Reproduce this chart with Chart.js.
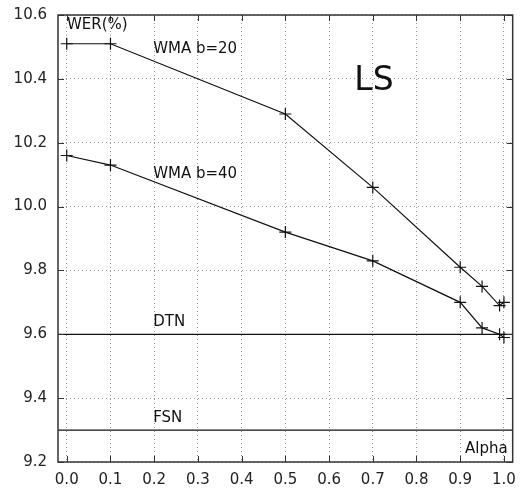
<!DOCTYPE html>
<html>
<head>
<meta charset="utf-8">
<script src="https://cdn.jsdelivr.net/npm/chart.js@4"></script>
<style>
    html, body { margin: 0; padding: 0; background: #fff; overflow: hidden; }
    #wrap { width: 522px; height: 491px; overflow: hidden; position: relative; }
    #chart { position: absolute; left: 0; top: -5px; }
</style>
</head>
<body>
<div id="wrap"><canvas id="chart" width="525" height="496"></canvas></div>
<script>
// values
const alphas = [0.0, 0.1, 0.5, 0.7, 0.9, 0.95, 0.99, 1.0];
const werB20 = [10.51, 10.51, 10.29, 10.06, 9.81, 9.75, 9.69, 9.70];
const werB40 = [10.16, 10.13, 9.92, 9.83, 9.70, 9.62, 9.60, 9.59];
const dtnWer = 9.6;
const fsnWer = 9.3;
const xTicks = [0.0, 0.1, 0.2, 0.3, 0.4, 0.5, 0.6, 0.7, 0.8, 0.9, 1.0];
const yTicks = [9.2, 9.4, 9.6, 9.8, 10.0, 10.2, 10.4, 10.6];

const xMin = -0.02, xMax = 1.02;
const FONT = "'DejaVu Sans', sans-serif";

function toPoints(xs, ys){
    return xs.map((x, i) => ({ x: x, y: ys[i] }));
}

// text labels placed at data coordinates
const notes = [
    { text: "WMA b=20", x: 0.2, y: 10.48, size: 15 },
    { text: "WMA b=40", x: 0.2, y: 10.09, size: 15 },
    { text: "DTN", x: 0.2, y: 9.625, size: 15 },
    { text: "FSN", x: 0.2, y: 9.325, size: 15 },
    { text: "LS", x: 0.66, y: 10.365, size: 33 }
];

const annotate = {
    id: "annotate",
    afterDraw(chart){
        const ctx = chart.ctx;
        const xs = chart.scales.x;
        const ys = chart.scales.y;
        const a = chart.chartArea;

        ctx.save();
        // inward tick marks on all four sides
        ctx.strokeStyle = "#333";
        ctx.lineWidth = 1;
        ctx.beginPath();
        xTicks.forEach(v => {
            const px = Math.round(xs.getPixelForValue(v)) + 0.5;
            ctx.moveTo(px, a.bottom); ctx.lineTo(px, a.bottom - 6);
            ctx.moveTo(px, a.top); ctx.lineTo(px, a.top + 6);
        });
        yTicks.forEach(v => {
            const py = Math.round(ys.getPixelForValue(v)) + 0.5;
            ctx.moveTo(a.left, py); ctx.lineTo(a.left + 6, py);
            ctx.moveTo(a.right, py); ctx.lineTo(a.right - 6, py);
        });
        ctx.stroke();

        // frame
        ctx.strokeStyle = "#333";
        ctx.lineWidth = 1.5;
        ctx.strokeRect(a.left, a.top, a.right - a.left, a.bottom - a.top);

        ctx.fillStyle = "#111";
        ctx.textBaseline = "alphabetic";
        notes.forEach(n => {
            ctx.font = n.size + "px " + FONT;
            ctx.textAlign = "left";
            ctx.fillText(n.text, xs.getPixelForValue(n.x) - 1, ys.getPixelForValue(n.y));
        });

        ctx.font = "15px " + FONT;
        ctx.textAlign = "left";
        ctx.fillText("WER(%)", a.left + 9, a.top + 14);
        ctx.textAlign = "right";
        ctx.fillText("Alpha", a.right - 5, a.bottom - 9);
        ctx.restore();
    }
};

const lineStyle = {
    borderColor: "#111",
    borderWidth: 1.2,
    pointStyle: "cross",
    pointRadius: 6,
    pointBorderColor: "#111",
    pointBorderWidth: 1.2,
    showLine: true,
    tension: 0
};

const gridStyle = {
    color: "#999",
    lineWidth: 1,
    drawTicks: false
};

new Chart(document.getElementById("chart"), {
    type: "scatter",
    data: {
        datasets: [
            Object.assign({ label: "WMA b=20", data: toPoints(alphas, werB20) }, lineStyle),
            Object.assign({ label: "WMA b=40", data: toPoints(alphas, werB40) }, lineStyle),
            { label: "DTN", data: [{ x: xMin, y: dtnWer }, { x: xMax, y: dtnWer }],
              borderColor: "#111", borderWidth: 1.2, pointRadius: 0, showLine: true },
            { label: "FSN", data: [{ x: xMin, y: fsnWer }, { x: xMax, y: fsnWer }],
              borderColor: "#111", borderWidth: 1.2, pointRadius: 0, showLine: true }
        ]
    },
    options: {
        responsive: false,
        animation: false,
        layout: { padding: { top: 9, right: 7, left: 0, bottom: 0 } },
        plugins: {
            legend: { display: false },
            tooltip: { enabled: false }
        },
        scales: {
            x: {
                type: "linear",
                min: xMin,
                max: xMax,
                afterBuildTicks: scale => { scale.ticks = xTicks.map(v => ({ value: v })); },
                afterFit: scale => { scale.height = 29; },
                border: { display: false, dash: [1, 3] },
                grid: gridStyle,
                ticks: {
                    padding: 9,
                    color: "#222",
                    font: { family: FONT, size: 15 },
                    maxRotation: 0,
                    autoSkip: false,
                    callback: v => Number(v).toFixed(1)
                }
            },
            y: {
                min: 9.2,
                max: 10.6,
                afterBuildTicks: scale => { scale.ticks = yTicks.map(v => ({ value: v })); },
                afterFit: scale => { scale.width = 58; },
                border: { display: false, dash: [1, 3] },
                grid: gridStyle,
                ticks: {
                    padding: 11,
                    color: "#222",
                    font: { family: FONT, size: 15 },
                    autoSkip: false,
                    callback: v => Number(v).toFixed(1)
                }
            }
        }
    },
    plugins: [annotate]
});
</script>
</body>
</html>
